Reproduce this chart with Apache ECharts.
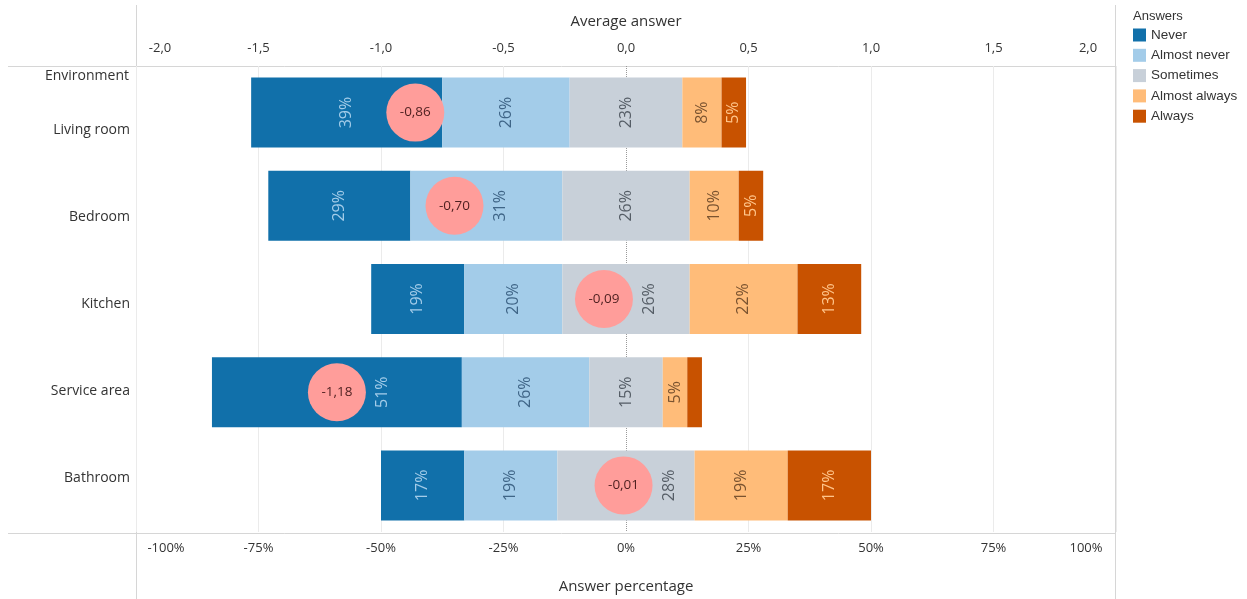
<!DOCTYPE html>
<html>
<head>
<meta charset="utf-8">
<script src="https://cdn.jsdelivr.net/npm/echarts@6/dist/echarts.min.js"></script>
<style>html,body{margin:0;padding:0;background:#fff}#c{width:1247px;height:599px}</style>
</head>
<body>
<div id="c"></div>
<script>
const categories = ['Living room', 'Bedroom', 'Kitchen', 'Service area', 'Bathroom'];
const seriesNames = ['Never', 'Almost never', 'Sometimes', 'Almost always', 'Always'];
const never = [39, 29, 19, 51, 17];
const almostNever = [26, 31, 20, 26, 19];
const sometimes = [23, 26, 26, 15, 28];
const almostAlways = [8, 10, 22, 5, 19];
const always = [5, 5, 13, 3, 17];
const averages = [-0.86, -0.70, -0.09, -1.18, -0.01];

const values = [never, almostNever, sometimes, almostAlways, always];
const colors = ['#1170aa', '#a3cce9', '#c8d0d9', '#ffbc79', '#c85200'];
const labelColors = ['#a3cce9', '#3f6587', '#555d66', '#7a5330', '#ffc58a'];

const W = 1247, H = 599;
const gridLeft = 136, gridRight = 131;
const pxPerPct = (W - gridLeft - gridRight) / 200;
const FONT = 'Open Sans';

// left edge of each bar: Sometimes centred on 0
const offsets = categories.map((c, i) => -(never[i] + almostNever[i] + sometimes[i] / 2));

function comma(v, d) { return v.toFixed(d).replace('.', ','); }

const barSeries = values.map((arr, s) => ({
  name: seriesNames[s],
  type: 'bar',
  stack: 'total',
  stackStrategy: 'all',
  barWidth: 70,
  xAxisIndex: 0,
  yAxisIndex: 0,
  itemStyle: { color: colors[s] },
  emphasis: { disabled: true },
  data: arr.map((v, i) => {
    let start = offsets[i];
    for (let k = 0; k < s; k++) start += values[k][i];
    const centre = start + v / 2;
    const cx = averages[i] * 50;
    let dx = 0;
    if (Math.abs(centre - cx) < 8) dx = (cx + 9.3 - centre) * pxPerPct;
    return {
      value: v,
      label: {
        show: v >= 4,
        position: 'inside',
        rotate: 90,
        offset: [0, dx],
        formatter: v + '%',
        color: labelColors[s],
        fontSize: 16,
        fontFamily: FONT
      }
    };
  })
}));

const option = {
  animation: false,
  backgroundColor: '#fff',
  textStyle: { fontFamily: FONT },
  grid: [
    { left: gridLeft, right: gridRight, top: 66, bottom: 66 },
    { left: gridLeft, right: gridRight, top: 87, height: 434 }
  ],
  legend: {
    orient: 'vertical',
    left: 1128,
    top: 23,
    itemWidth: 13,
    itemHeight: 13,
    itemGap: 6.3,
    icon: 'rect',
    data: seriesNames,
    selectedMode: false,
    textStyle: { fontFamily: 'Liberation Sans', fontSize: 13.5, color: '#333' }
  },
  xAxis: [
    {
      type: 'value', gridIndex: 0, position: 'bottom', min: -100, max: 100, interval: 25,
      axisLine: { show: false }, axisTick: { show: false },
      splitLine: { show: true, lineStyle: { color: ['#ebebeb', '#ebebeb', '#ebebeb', '#ebebeb', 'rgba(0,0,0,0)', '#ebebeb', '#ebebeb', '#ebebeb', '#ebebeb'] } },
      axisLabel: {
        margin: 10, color: '#333', fontSize: 13, fontFamily: FONT,
        formatter: function (v) {
          const t = v + '%';
          if (v === -100) return '{l|' + t + '}';
          if (v === 100) return '{r|' + t + '}';
          return t;
        },
        rich: {
          l: { padding: [0, 0, 0, 60], fontSize: 13, color: '#333', fontFamily: FONT },
          r: { padding: [0, 60, 0, 0], fontSize: 13, color: '#333', fontFamily: FONT }
        }
      },
      name: 'Answer percentage', nameLocation: 'middle', nameGap: 47,
      nameTextStyle: { fontSize: 15, color: '#333', fontFamily: FONT }
    },
    {
      type: 'value', gridIndex: 0, position: 'top', min: -2, max: 2, interval: 0.5,
      axisLine: { show: false }, axisTick: { show: false }, splitLine: { show: false },
      axisLabel: {
        margin: 11, color: '#333', fontSize: 13, fontFamily: FONT,
        formatter: function (v) {
          const t = comma(v, 1);
          if (v === -2) return '{l|' + t + '}';
          if (v === 2) return '{r|' + t + '}';
          return t;
        },
        rich: {
          l: { padding: [0, 0, 0, 48], fontSize: 13, color: '#333', fontFamily: FONT },
          r: { padding: [0, 56, 0, 0], fontSize: 13, color: '#333', fontFamily: FONT }
        }
      },
      name: 'Average answer', nameLocation: 'middle', nameGap: 37,
      nameTextStyle: { fontSize: 15, color: '#333', fontFamily: FONT }
    },
    {
      type: 'value', gridIndex: 0, position: 'bottom', min: -1, max: 1, interval: 1, show: true,
      axisLine: { show: false }, axisTick: { show: false }, axisLabel: { show: false },
      splitLine: { show: true, lineStyle: { type: 'dotted', color: ['rgba(0,0,0,0)', '#9a9a9a', 'rgba(0,0,0,0)'] } }
    },
    { type: 'value', gridIndex: 1, min: 0, max: 1, show: false }
  ],
  yAxis: [
    { type: 'category', gridIndex: 0, data: categories, inverse: true, show: false },
    {
      type: 'category', gridIndex: 1, data: categories, inverse: true,
      axisLine: { show: false }, axisTick: { show: false }, splitLine: { show: false },
      axisLabel: { margin: 6, fontSize: 14, color: '#333', fontFamily: FONT }
    }
  ],
  graphic: [
    { type: 'line', silent: true, shape: { x1: 136.5, y1: 5, x2: 136.5, y2: 599 }, style: { stroke: '#d6d6d6', lineWidth: 1 } },
    { type: 'line', silent: true, shape: { x1: 1115.5, y1: 5, x2: 1115.5, y2: 599 }, style: { stroke: '#d6d6d6', lineWidth: 1 } },
    { type: 'line', silent: true, shape: { x1: 8, y1: 66.5, x2: 1115, y2: 66.5 }, style: { stroke: '#d6d6d6', lineWidth: 1 } },
    { type: 'line', silent: true, shape: { x1: 8, y1: 533.5, x2: 1115, y2: 533.5 }, style: { stroke: '#d6d6d6', lineWidth: 1 } },
    { type: 'text', x: 129, y: 76, silent: true, style: { text: 'Environment', align: 'right', verticalAlign: 'middle', fontSize: 14, fontFamily: FONT, fill: '#333' } },
    { type: 'text', x: 1133, y: 16, silent: true, style: { text: 'Answers', align: 'left', verticalAlign: 'middle', fontSize: 13, fontFamily: 'Liberation Sans', fill: '#333' } }
  ],
  series: [
    {
      name: 'offset', type: 'bar', stack: 'total', stackStrategy: 'all', barWidth: 70,
      xAxisIndex: 0, yAxisIndex: 0, silent: true,
      itemStyle: { color: 'rgba(0,0,0,0)' }, label: { show: false },
      data: offsets
    }
  ].concat(barSeries).concat([
    {
      name: 'Average', type: 'scatter', xAxisIndex: 1, yAxisIndex: 0, z: 5,
      symbol: 'circle', symbolSize: 58,
      itemStyle: { color: '#ff9d9a', opacity: 1 },
      label: { show: true, position: 'inside', color: '#4d1f1f', fontSize: 13.5, fontFamily: FONT, formatter: p => comma(p.value[0], 2) },
      data: averages.map((a, i) => [a, categories[i]])
    }
  ])
};

const chart = echarts.init(document.getElementById('c'), null, { renderer: 'canvas' });
chart.setOption(option);
</script>
</body>
</html>
